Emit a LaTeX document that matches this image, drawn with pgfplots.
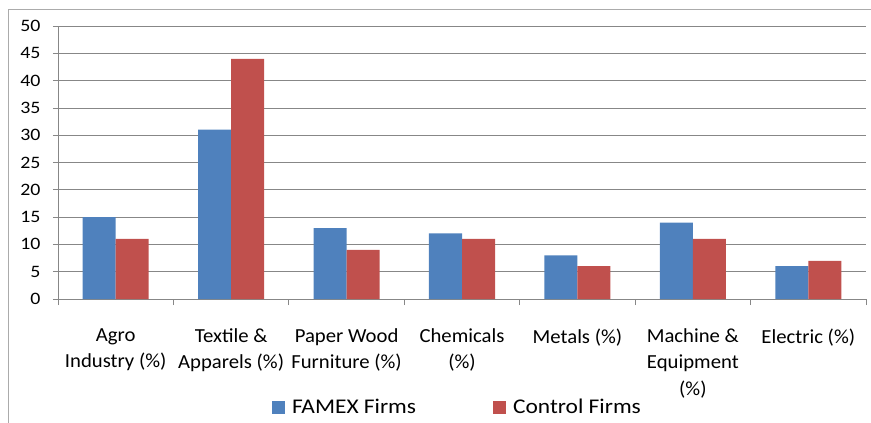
\documentclass[border=0pt]{standalone}
\usepackage{fontspec}
\setmainfont{Carlito}
\newfontfamily\catfont[FakeStretch=1.04]{Carlito}
\newfontfamily\tickfont[FakeStretch=1.14]{Carlito}
\newfontfamily\legfont[FakeStretch=1.12]{Carlito}
\usepackage{pgfplots}
\pgfplotsset{compat=1.18}
\definecolor{famex}{HTML}{4F81BD}
\definecolor{ctrl}{HTML}{C0504D}
\definecolor{gridc}{HTML}{878787}
\begin{document}
\begin{tikzpicture}
\path[use as bounding box] (-58bp,-124bp) rectangle (813bp,299bp);
\draw[gridc!70, line width=0.8bp] (-50bp,-124bp) -- (-50bp,290bp) -- (813bp,290bp);
\begin{axis}[
  name=ax, at={(0,0)}, anchor=south west,
  scale only axis, width=808bp, height=273bp,
  xmin=-0.5, xmax=6.5, ymin=0, ymax=50,
  ytick={0,5,...,50},
  ybar=0pt, bar width=33bp,
  xtick={0,...,6},
  xticklabels={{Agro\\Industry (\%)},{Textile \&\\Apparels (\%)},{Paper Wood\\Furniture (\%)},{Chemicals\\(\%)},{Metals (\%)},{Machine \&\\Equipment\\(\%)},{Electric (\%)}},
  major x tick style={draw=none},
  minor xtick={-0.5,0.5,...,6.5},
  minor x tick style={draw=gridc, line width=0.8bp},
  minor tick length=6bp,
  major tick length=5bp,
  y tick style={draw=gridc, line width=0.8bp},
  tick align=outside,
  axis x line*=bottom, axis y line*=left,
  axis line style={draw=gridc, line width=0.8bp, -},
  ymajorgrids, grid style={draw=gridc, line width=0.8bp},
  /pgf/number format/assume math mode=true,
  yticklabel style={font=\tickfont\fontsize{17.5}{20}\selectfont, xshift=-9bp},
  xticklabel style={font=\catfont\fontsize{20}{26.5}\selectfont, align=center, anchor=north, yshift=-21bp},
  legend style={at={(axis description cs:0.5,0)}, anchor=center, yshift=-108bp, xshift=-4.5bp, draw=none, fill=none,
    font=\legfont\fontsize{21}{24}\selectfont, legend columns=2,
    /tikz/every even column/.append style={column sep=75bp}},
  legend image code/.code={\fill[#1,draw=none] (0bp,-7bp) rectangle (13bp,6.5bp); \path (18bp,0bp);},
]
\addplot[fill=famex, draw=none] coordinates {(0,15) (1,31) (2,13) (3,12) (4,8) (5,14) (6,6)};
\addplot[fill=ctrl, draw=none] coordinates {(0,11) (1,44) (2,9) (3,11) (4,6) (5,11) (6,7)};
\legend{FAMEX Firms, Control Firms}
\end{axis}
\end{tikzpicture}
\end{document}
